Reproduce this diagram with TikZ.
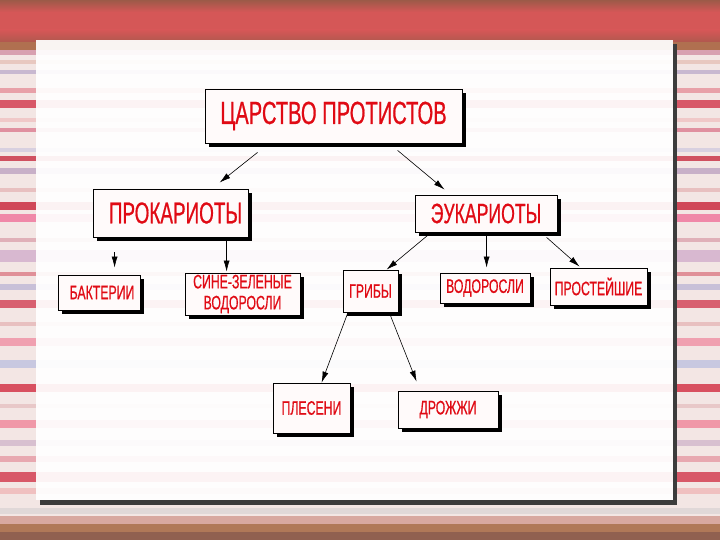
\documentclass[tikz,border=0pt]{standalone}
\usepackage{fontspec}
\setmainfont{Liberation Sans}[FakeStretch=0.63,FakeBold=0.6]
\usetikzlibrary{arrows.meta,shadows}
\definecolor{slred}{HTML}{D55757}
\definecolor{slbrown}{HTML}{9C5A48}
\definecolor{sldark}{HTML}{B0584E}
\definecolor{slbase}{HTML}{F3E6E4}
\definecolor{panelshadow}{HTML}{3C3C3C}
\definecolor{boxfill}{HTML}{FFFAFA}
\definecolor{txtred}{HTML}{E00A14}

\begin{document}
\begin{tikzpicture}[x=1pt,y=-1pt,
  box/.style={draw=black,line width=0.8pt,fill=boxfill,inner sep=0pt,align=center,text=txtred,
    drop shadow={shadow xshift=4pt,shadow yshift=-4pt,fill=black,opacity=1}},
  big/.style={box,font=\fontsize{32}{34}\selectfont},
  small/.style={box,font=\fontsize{19.5}{21}\selectfont},
  arrow/.style={-{Latex[length=11pt,width=6pt]},line width=0.6pt,color=black}
]
  \useasboundingbox (0,0) rectangle (720,540);
  % striped slide background
  \fill[slbase] (0,0) rectangle (720,540);
  \foreach \ya/\yb/\col in {42/50/B07050, 50/55/D8A0B0, 60/64/E8C8C0, 70/74/C8B8D0,
      88/93/E8A0A8, 100/108/D85868, 118/122/F0C8C8, 128/132/E090A0, 148/152/D8D0E0,
      156/161/D05060, 168/174/C8B0C8, 188/192/E8C0C0, 202/210/D04858, 214/222/F088A8,
      238/242/E0B0B8, 250/262/D8B8D0, 272/276/E09098, 284/290/C8C0D8, 300/308/D86070,
      322/326/E8C0C0, 338/346/F0A0B0, 360/368/C8C8E0, 384/392/D85060, 404/408/E8C8C8,
      420/428/F098A8, 440/446/D8C0D0, 456/462/E8A8B0, 472/482/D85868, 488/494/F0C0C0,
      508/514/E0D8D8, 516/524/D8A8A0, 524/532/B07858, 532/540/906050} {
    \definecolor{stripe}{HTML}{\col}
    \fill[stripe] (0,\ya) rectangle (720,\yb);
  }
  \fill[slred] (0,0) rectangle (720,42);
  \shade[top color=slbrown,bottom color=slred] (0,0) rectangle (720,12);
  \shade[top color=slred,bottom color=sldark] (0,30) rectangle (720,42);
  % white panel
  \fill[panelshadow] (673,44) rectangle (677,505);
  \fill[panelshadow] (40,500) rectangle (677,505);
  \fill[white,fill opacity=0.93] (36,40) rectangle (673,500);

  % boxes
  \node[big,minimum width=257pt,minimum height=54pt] (root) at (333.5,116) {ЦАРСТВО ПРОТИСТОВ};
  \node[big,font=\fontsize{30}{32}\selectfont,minimum width=155pt,minimum height=48pt] (prok) at (170.5,213) {\hspace*{10pt}ПРОКАРИОТЫ};
  \node[big,font=\fontsize{28}{30}\selectfont,minimum width=142pt,minimum height=37pt] (euk) at (486,213.5) {ЭУКАРИОТЫ};
  \node[small,minimum width=82pt,minimum height=35pt] (bact) at (99,292.5) {\hspace*{6pt}БАКТЕРИИ};
  \node[small,minimum width=115pt,minimum height=42pt] (cyano) at (242.5,294) {СИНЕ-ЗЕЛЕНЫЕ\\ВОДОРОСЛИ};
  \node[small,minimum width=55pt,minimum height=42pt] (fungi) at (370.5,291) {ГРИБЫ};
  \node[small,minimum width=90pt,minimum height=30pt] (algae) at (485,288) {ВОДОРОСЛИ};
  \node[small,minimum width=97pt,minimum height=37pt] (proto) at (598.5,286.5) {ПРОСТЕЙШИЕ};
  \node[small,minimum width=77pt,minimum height=50pt] (mould) at (311.5,408) {ПЛЕСЕНИ};
  \node[small,minimum width=100pt,minimum height=37pt] (yeast) at (448,409.5) {ДРОЖЖИ};

  % arrows
  \draw[arrow] ([xshift=53pt,yshift=-9pt]root.south west) -- ([xshift=127pt,yshift=6pt]prok.north west);
  \draw[arrow] ([xshift=193pt,yshift=-7pt]root.south west) -- ([xshift=30pt,yshift=5pt]euk.north west);
  \draw[arrow] ([xshift=22pt,yshift=-15pt]prok.south west) -- ([xshift=57pt,yshift=7pt]bact.north west);
  \draw[arrow] ([xshift=134pt,yshift=-3pt]prok.south west) -- ([xshift=42pt,yshift=1pt]cyano.north west);
  \draw[arrow] ([xshift=13pt,yshift=-3pt]euk.south west) -- ([xshift=44pt]fungi.north west);
  \draw[arrow] ([xshift=72pt]euk.south west) -- ([xshift=47pt,yshift=5pt]algae.north west);
  \draw[arrow] ([xshift=132pt,yshift=-5pt]euk.south west) -- ([xshift=30pt,yshift=1pt]proto.north west);
  \draw[arrow] ([xshift=5pt,yshift=-1pt]fungi.south west) -- ([xshift=49pt]mould.north west);
  \draw[arrow] ([xshift=47pt,yshift=-1pt]fungi.south west) -- ([xshift=19pt,yshift=9pt]yeast.north west);
\end{tikzpicture}
\end{document}
